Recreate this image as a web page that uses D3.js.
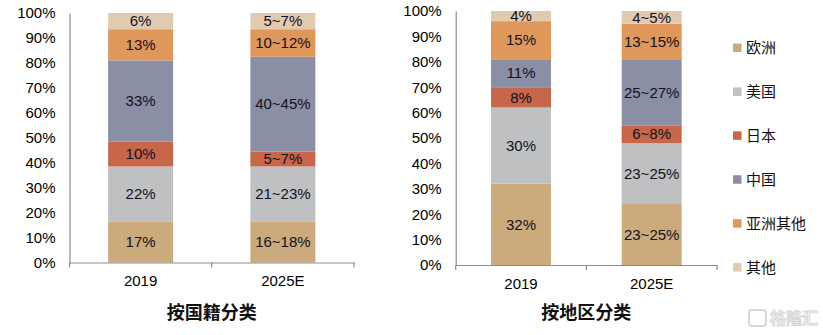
<!DOCTYPE html>
<html>
<head>
<meta charset="utf-8">
<script src="https://cdn.jsdelivr.net/npm/d3@7/dist/d3.min.js"></script>
<style>
  html, body { margin: 0; padding: 0; background: #fff; }
  svg { display: block; }
</style>
</head>
<body>
<svg id="chart" width="823" height="335"></svg>
<script>
// ---- data ----
const categories = ["2019", "2025E"];
const seriesNames = ["欧洲", "美国", "日本", "中国", "亚洲其他", "其他"];
const seriesColors = ["#CBAA7B", "#BFC0C2", "#C8664A", "#8A8FA5", "#E0975A", "#E1CBB0"];
const yTickValues = [0, 10, 20, 30, 40, 50, 60, 70, 80, 90, 100];

// 按国籍分类 (by nationality)
const nationality2019 = [16.5, 22, 10, 32.5, 12.5, 6.5];
const nationality2025 = [16.5, 22, 6, 38, 11, 6.5];
const nationalityLabels2019 = ["17%", "22%", "10%", "33%", "13%", "6%"];
const nationalityLabels2025 = ["16~18%", "21~23%", "5~7%", "40~45%", "10~12%", "5~7%"];

// 按地区分类 (by region)
const region2019 = [32, 30, 8, 11, 15, 4];
const region2025 = [24, 24, 7, 26, 14, 5];
const regionLabels2019 = ["32%", "30%", "8%", "11%", "15%", "4%"];
const regionLabels2025 = ["23~25%", "23~25%", "6~8%", "25~27%", "13~15%", "4~5%"];

const latin = "'Liberation Sans', Arial, sans-serif";
const cjk = "'Noto Sans CJK SC', 'Noto Sans', sans-serif";
const textColor = "#111122";
const axisColor = "#8c8c8c";

const svg = d3.select("#chart");

function drawPanel(opts) {
  const { values, labels, title, x0, x1, yTop, yBottom, barWidth } = opts;
  const rows = categories.map((c, i) => {
    const r = { category: c };
    seriesNames.forEach((s, j) => { r[s] = values[i][j]; });
    return r;
  });
  const stack = d3.stack().keys(seriesNames).offset(d3.stackOffsetExpand);
  const stacked = stack(rows);

  const step = (x1 - x0) / categories.length;
  const p = 1 - barWidth / step;
  const x = d3.scaleBand().domain(categories).range([x0, x1])
    .paddingInner(p).paddingOuter(p / 2);
  const y = d3.scaleLinear().domain([0, 1]).range([yBottom, yTop]);

  const g = svg.append("g");

  // bars
  stacked.forEach((layer, j) => {
    g.append("g").selectAll("rect").data(layer).join("rect")
      .attr("x", d => x(d.data.category))
      .attr("width", x.bandwidth())
      .attr("y", d => y(d[1]))
      .attr("height", d => y(d[0]) - y(d[1]))
      .attr("fill", seriesColors[j]);
    g.append("g").selectAll("text").data(layer).join("text")
      .attr("x", d => x(d.data.category) + x.bandwidth() / 2)
      .attr("y", d => (y(d[0]) + y(d[1])) / 2)
      .attr("dy", "0.35em")
      .attr("text-anchor", "middle")
      .attr("font-family", latin)
      .attr("font-size", 15)
      .attr("fill", textColor)
      .text((d, i) => labels[i][j]);
  });

  // y axis
  const yAxis = d3.axisLeft(y)
    .tickValues(yTickValues.map(v => v / 100))
    .tickFormat(v => Math.round(v * 100) + "%")
    .tickSize(0).tickPadding(14);
  const ya = g.append("g").attr("transform", `translate(${x0},0)`).call(yAxis);
  ya.select(".domain").attr("stroke", axisColor).attr("stroke-width", 1.2);
  ya.selectAll("text").attr("font-family", latin).attr("font-size", 15).attr("fill", "#000");

  // x axis
  const xAxis = d3.axisBottom(x).tickSize(0).tickPadding(13);
  const xa = g.append("g").attr("transform", `translate(0,${yBottom})`).call(xAxis);
  xa.select(".domain").attr("stroke", axisColor).attr("stroke-width", 1.2);
  xa.selectAll("text").attr("font-family", latin).attr("font-size", 15).attr("fill", "#000");
  // tick marks at category boundaries
  const bounds = d3.range(categories.length + 1).map(i => x0 + i * x.step());
  g.append("g").selectAll("line").data(bounds).join("line")
    .attr("x1", d => d).attr("x2", d => d)
    .attr("y1", yBottom).attr("y2", yBottom + 5)
    .attr("stroke", axisColor).attr("stroke-width", 1.2);

  // title
  g.append("text")
    .attr("x", (x0 + x1) / 2)
    .attr("y", 313)
    .attr("dy", "0.35em")
    .attr("text-anchor", "middle")
    .attr("font-family", cjk)
    .attr("font-weight", "bold")
    .attr("font-size", 18)
    .attr("fill", "#111")
    .text(title);
}

drawPanel({
  values: [nationality2019, nationality2025],
  labels: [nationalityLabels2019, nationalityLabels2025],
  title: "按国籍分类",
  x0: 69.5, x1: 354, yTop: 13, yBottom: 262.5, barWidth: 65
});

drawPanel({
  values: [region2019, region2025],
  labels: [regionLabels2019, regionLabels2025],
  title: "按地区分类",
  x0: 455.7, x1: 717, yTop: 11, yBottom: 265, barWidth: 60
});

// legend
const legend = svg.append("g");
const legendY = d3.scalePoint().domain(seriesNames).range([47.7, 267.3]);
seriesNames.forEach((s, j) => {
  legend.append("rect")
    .attr("x", 733).attr("y", legendY(s) - 4.2)
    .attr("width", 8.5).attr("height", 8.5)
    .attr("fill", seriesColors[j]);
  legend.append("text")
    .attr("x", 746).attr("y", legendY(s))
    .attr("dy", "0.35em")
    .attr("font-family", cjk)
    .attr("font-size", 15)
    .attr("fill", "#111")
    .text(s);
});

// watermark
const wm = svg.append("g").attr("opacity", 0.9);
wm.append("rect").attr("x", 749).attr("y", 310).attr("width", 17).attr("height", 16)
  .attr("rx", 3).attr("fill", "none").attr("stroke", "#d4d4d4").attr("stroke-width", 2);
wm.append("text").attr("x", 770).attr("y", 318).attr("dy", "0.35em")
  .attr("font-family", cjk).attr("font-size", 16).attr("font-weight", "bold")
  .attr("fill", "#f2f2f2").attr("stroke", "#cfcfcf").attr("stroke-width", 0.8)
  .text("格隆汇");
</script>
</body>
</html>
